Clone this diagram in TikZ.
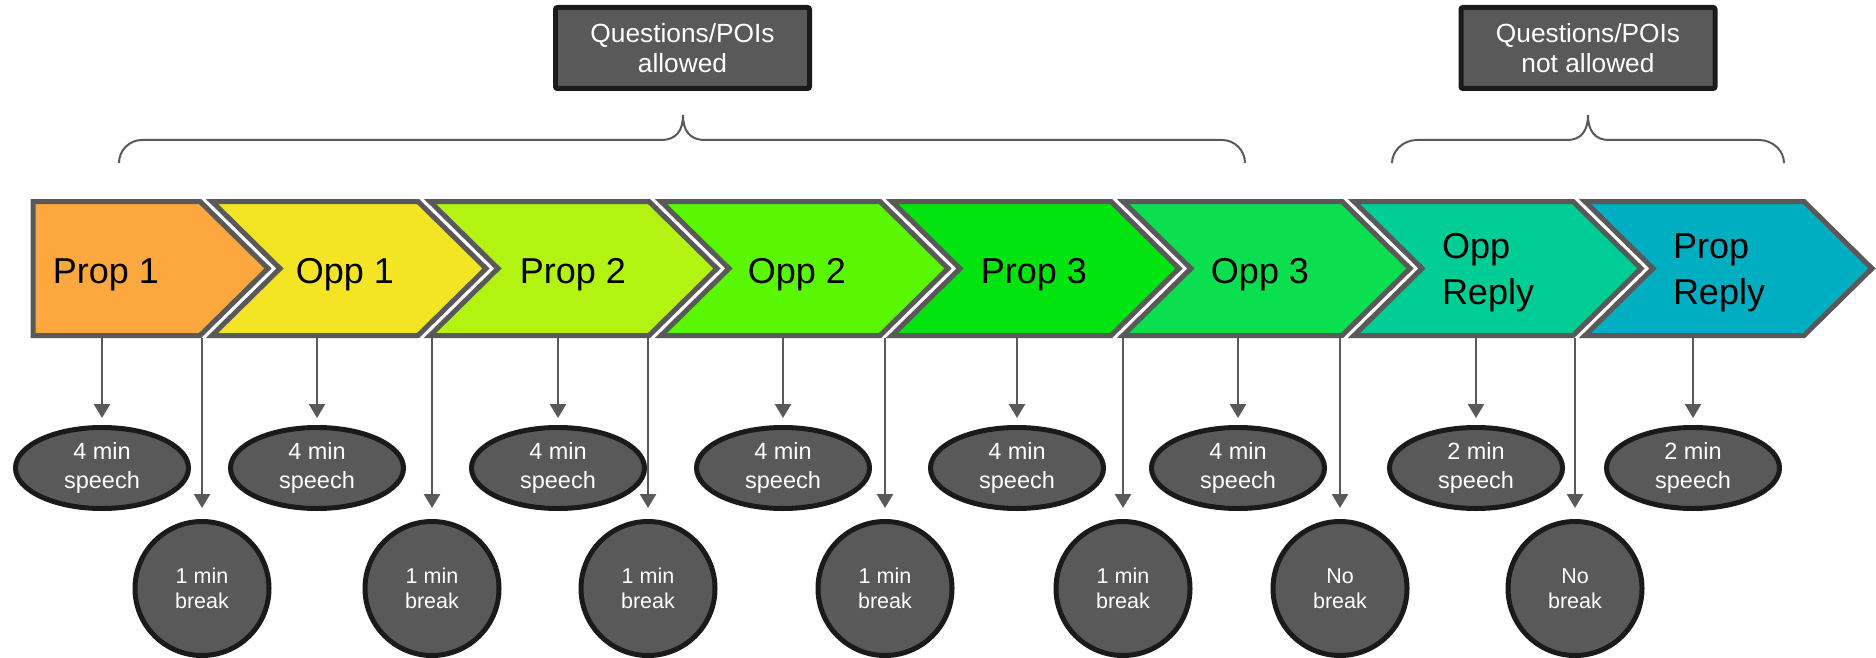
\documentclass[tikz,border=0pt]{standalone}
\usepackage{fontspec}
\setmainfont{Liberation Sans}
\usetikzlibrary{shapes.geometric,arrows.meta}
\definecolor{lgray}{HTML}{595959}
\definecolor{dk}{HTML}{1A1A1A}
\definecolor{cA}{HTML}{FCA83E}
\definecolor{cB}{HTML}{F3E524}
\definecolor{cC}{HTML}{B3F312}
\definecolor{cD}{HTML}{5AF702}
\definecolor{cE}{HTML}{02E410}
\definecolor{cF}{HTML}{0ADF4F}
\definecolor{cG}{HTML}{00CC96}
\definecolor{cH}{HTML}{00AEC2}
\tikzset{
  chev/.style={line width=5pt, draw=lgray, line join=miter},
  chevlabel/.style={font=\fontsize{36}{46}\selectfont, align=left, inner sep=0pt, text=black},
  speech/.style={ellipse, draw=dk, line width=5pt, fill=lgray, minimum width=173pt, minimum height=81pt, inner sep=0pt, text=white, align=center, font=\fontsize{23.5}{28.5}\selectfont},
  brk/.style={circle, draw=dk, line width=5pt, fill=lgray, minimum size=134pt, inner sep=0pt, text=white, align=center, font=\fontsize{21.5}{24.5}\selectfont},
  poibox/.style={rectangle, rounded corners=2pt, draw=dk, line width=5pt, fill=lgray, minimum width=254pt, minimum height=81pt, inner sep=0pt, text=white, align=center, font=\fontsize{26.3}{30.7}\selectfont},
  arr/.style={draw=lgray, line width=2.5pt, -{Triangle[width=16pt,length=14pt]}},
  brace/.style={draw=lgray, line width=2pt},
}
\newcommand\mychevron[4]{%
  \path[chev, fill=#4] (#1,201.5) -- (#2,201.5) -- ++(68,67) -- (#2,335.5) -- (#1,335.5) -- ++(#3,-67) -- cycle;}
\begin{document}
\begin{tikzpicture}[x=1pt,y=-1pt]
\useasboundingbox (0,0) rectangle (1876,658);
% top boxes
\node[poibox] (q1) at (682.5,48) {Questions/POIs\\allowed};
\node[poibox] (q2) at (1588,48) {Questions/POIs\\not allowed};
% braces
\draw[brace] (119,163) .. controls (119,150.3) and (129.3,140) .. (142,140) -- (661,140)
  .. controls (676,140) and (683,131) .. (683,115) .. controls (683,131) and (690,140) .. (705,140)
  -- (1222,140) .. controls (1234.7,140) and (1245,150.3) .. (1245,163);
\draw[brace] (1392,163) .. controls (1392,151) and (1403,140) .. (1417,140) -- (1567,140)
  .. controls (1581,140) and (1588,131) .. (1588,115) .. controls (1588,131) and (1595,140) .. (1609,140)
  -- (1759,140) .. controls (1773,140) and (1784,151) .. (1784,163);
% chevrons
\mychevron{33}{200}{0}{cA}
\mychevron{212}{418}{68}{cB}
\mychevron{430}{649}{68}{cC}
\mychevron{661}{880}{68}{cD}
\mychevron{892}{1111}{68}{cE}
\mychevron{1123}{1342}{68}{cF}
\mychevron{1354}{1573}{68}{cG}
\mychevron{1585}{1804}{68}{cH}
% labels
\node[chevlabel, anchor=base] (l1) at (106,283) {Prop 1};
\node[chevlabel, anchor=base] (l2) at (345,283) {Opp 1};
\node[chevlabel, anchor=base] (l3) at (573,283) {Prop 2};
\node[chevlabel, anchor=base] (l4) at (797,283) {Opp 2};
\node[chevlabel, anchor=base] (l5) at (1034,283) {Prop 3};
\node[chevlabel, anchor=base] (l6) at (1260,283) {Opp 3};
\node[chevlabel] (l7) at (1488,273) {Opp\\Reply};
\node[chevlabel] (l8) at (1719,273) {Prop\\Reply};
% speech ellipses
\node[speech] (e1) at (102,468) {4 min\\speech};
\node[speech] (e2) at (317,468) {4 min\\speech};
\node[speech] (e3) at (558,468) {4 min\\speech};
\node[speech] (e4) at (783,468) {4 min\\speech};
\node[speech] (e5) at (1017,468) {4 min\\speech};
\node[speech] (e6) at (1238,468) {4 min\\speech};
\node[speech] (e7) at (1476,468) {2 min\\speech};
\node[speech] (e8) at (1693,468) {2 min\\speech};
% break circles
\node[brk] (k1) at (202,588.5) {1 min\\break};
\node[brk] (k2) at (432,588.5) {1 min\\break};
\node[brk] (k3) at (648,588.5) {1 min\\break};
\node[brk] (k4) at (885,588.5) {1 min\\break};
\node[brk] (k5) at (1123,588.5) {1 min\\break};
\node[brk] (k6) at (1340,588.5) {No\\break};
\node[brk] (k7) at (1575,588.5) {No\\break};
% arrow start points
\foreach \i/\x in {1/102,2/317,3/558,4/783,5/1017,6/1238,7/1476,8/1693}
  \coordinate (a\i) at (\x,338);
\foreach \i/\x in {1/202,2/432,3/648,4/885,5/1123,6/1340,7/1575}
  \coordinate (b\i) at (\x,338);
\foreach \i in {1,...,8}
  \draw[arr, shorten >=7pt] (a\i) -- (e\i);
\foreach \i in {1,...,7}
  \draw[arr, shorten >=11pt] (b\i) -- (k\i);
\end{tikzpicture}
\end{document}
